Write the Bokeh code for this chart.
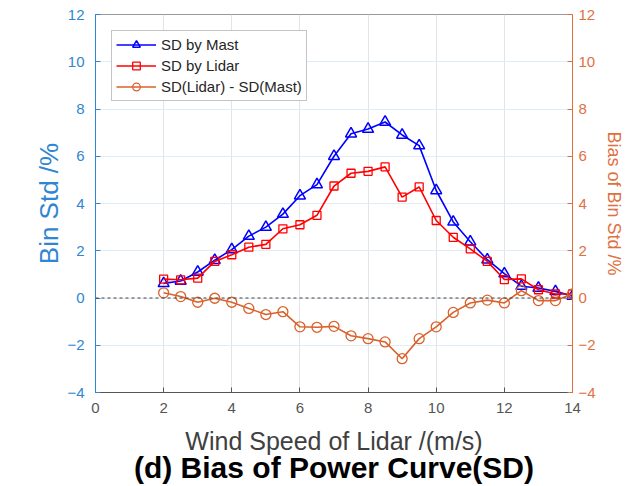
from bokeh.plotting import figure
from bokeh.models import Range1d, LinearAxis, FixedTicker, Span, Title
from bokeh.embed import file_html
from bokeh.resources import INLINE

# ---- data ----
wind_speed = [2, 2.5, 3, 3.5, 4, 4.5, 5, 5.5, 6, 6.5, 7, 7.5, 8, 8.5,
              9, 9.5, 10, 10.5, 11, 11.5, 12, 12.5, 13, 13.5, 14]
sd_mast = [0.62, 0.72, 1.10, 1.60, 2.05, 2.62, 3.00, 3.55, 4.33, 4.80, 6.00, 6.95, 7.15,
           7.45, 6.90, 6.45, 4.55, 3.22, 2.38, 1.62, 1.03, 0.50, 0.42, 0.28, 0.08]
sd_lidar = [0.80, 0.77, 0.84, 1.55, 1.83, 2.15, 2.27, 2.93, 3.10, 3.50, 4.74, 5.28, 5.36,
            5.55, 4.27, 4.70, 3.28, 2.57, 2.08, 1.55, 0.78, 0.81, 0.35, 0.17, 0.17]
sd_bias = [0.22, 0.06, -0.18, -0.01, -0.18, -0.44, -0.70, -0.58, -1.22, -1.24, -1.20, -1.60, -1.72,
           -1.86, -2.57, -1.72, -1.22, -0.61, -0.21, -0.09, -0.21, 0.31, -0.11, -0.11, 0.17]
x_ticks = [0, 2, 4, 6, 8, 10, 12, 14]
y_ticks = [-4, -2, 0, 2, 4, 6, 8, 10, 12]

FONT = "Liberation Sans"
LEFT_C = "#2f86d2"
RIGHT_C = "#e0703f"
BLUE = "#0000ff"
RED = "#ff0000"
ORANGE = "#d9622b"

p = figure(frame_width=477, frame_height=378,
           x_range=Range1d(0, 14), y_range=Range1d(-4, 12),
           output_backend="svg", toolbar_location=None,
           min_border_left=95, min_border_right=50, min_border_top=14, min_border_bottom=92,
           background_fill_color="white", border_fill_color="white")
p.extra_y_ranges = {"right": Range1d(-4, 12)}
p.outline_line_color = "#9a9a9a"

# grids
p.xgrid.ticker = FixedTicker(ticks=x_ticks)
p.ygrid.ticker = FixedTicker(ticks=y_ticks)
p.xgrid.grid_line_color = "#e2e4e8"
p.ygrid.grid_line_color = "#e0ecf8"

# zero reference line
p.add_layout(Span(location=0, dimension="width", line_color="#404040",
                  line_dash="3 3", line_width=1))

# series
p.line(wind_speed, sd_mast, line_color=BLUE, line_width=1.6, legend_label="SD by Mast")
p.scatter(wind_speed, sd_mast, marker="triangle", size=11, fill_color=None,
          line_color=BLUE, line_width=1.5, legend_label="SD by Mast")
p.line(wind_speed, sd_lidar, line_color=RED, line_width=1.6, legend_label="SD by Lidar")
p.scatter(wind_speed, sd_lidar, marker="square", size=8, fill_color=None,
          line_color=RED, line_width=1.3, legend_label="SD by Lidar")
p.line(wind_speed, sd_bias, line_color=ORANGE, line_width=1.6, y_range_name="right",
       legend_label="SD(Lidar) - SD(Mast)")
p.scatter(wind_speed, sd_bias, marker="circle", size=10, fill_color=None,
          line_color=ORANGE, line_width=1.3, y_range_name="right",
          legend_label="SD(Lidar) - SD(Mast)")

# axes
xa = p.xaxis[0]
xa.ticker = FixedTicker(ticks=x_ticks)
xa.axis_label = "Wind Speed of Lidar /(m/s)"
xa.axis_line_color = "#555555"
xa.major_tick_line_color = "#555555"
xa.major_label_text_color = "#555555"
xa.axis_label_text_color = "#404040"
xa.major_label_text_font_size = "15px"
xa.axis_label_text_font_size = "25px"
xa.major_label_standoff = 10
xa.axis_label_standoff = 11

ya = p.yaxis[0]
ya.ticker = FixedTicker(ticks=y_ticks)
ya.axis_label = "Bin Std /%"
ya.axis_line_color = LEFT_C
ya.major_tick_line_color = LEFT_C
ya.major_label_text_color = LEFT_C
ya.axis_label_text_color = LEFT_C
ya.major_label_text_font_size = "15px"
ya.axis_label_text_font_size = "26px"
ya.major_label_standoff = 11
ya.axis_label_standoff = 0

ra = LinearAxis(y_range_name="right", ticker=FixedTicker(ticks=y_ticks),
                axis_label="Bias of Bin Std /%")
ra.axis_line_color = RIGHT_C
ra.major_tick_line_color = RIGHT_C
ra.major_label_text_color = RIGHT_C
ra.axis_label_text_color = RIGHT_C
ra.major_label_text_font_size = "15px"
ra.axis_label_text_font_size = "18px"
ra.major_label_standoff = 6
ra.axis_label_standoff = 5
p.add_layout(ra, "right")

for ax in (xa, ya, ra):
    ax.major_tick_in = 5
    ax.major_tick_out = 0
    ax.minor_tick_line_color = None
    ax.major_label_text_font = FONT
    ax.axis_label_text_font = FONT
    ax.axis_label_text_font_style = "normal"
    ax.axis_line_width = 1

# title below
t = Title(text="(d) Bias of Power Curve(SD)", align="center", text_font=FONT,
          text_font_size="30px", text_font_style="bold", text_color="black", standoff=-17)
p.add_layout(t, "below")

# legend
lg = p.legend[0]
lg.location = "top_left"
lg.margin = 16
lg.padding = 4
lg.spacing = 2
lg.glyph_width = 40
lg.glyph_height = 19
lg.label_height = 19
lg.label_standoff = 5
lg.label_text_font = FONT
lg.label_text_font_size = "15px"
lg.label_text_color = "#262626"
lg.border_line_color = "#8a8a8a"
lg.border_line_width = 1
lg.background_fill_color = "white"
lg.background_fill_alpha = 1.0

open("out.html", "w").write(file_html(p, INLINE))
